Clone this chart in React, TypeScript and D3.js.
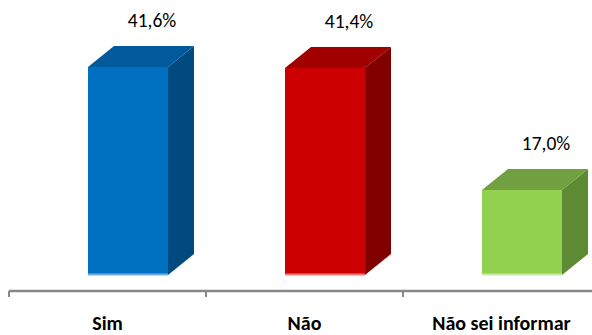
import React from "react";
import * as d3 from "d3";

const categories = ["Sim", "Não", "Não sei informar"];
const values = [41.6, 41.4, 17.0];
const valueLabels = ["41,6%", "41,4%", "17,0%"];

const colors = [
  { front: "#0070C0", top: "#005A9C", side: "#004A80", base: "#6FB0E4" },
  { front: "#CC0000", top: "#A00000", side: "#800000", base: "#EA7A7A" },
  { front: "#92D050", top: "#70A040", side: "#5E8A34", base: "#C8EAA8" },
];

const W = 592;
const H = 335;
const font = "Carlito, Calibri, Lato, 'Open Sans', sans-serif";

export default function App() {
  const x = d3.scaleBand<string>().domain(categories).range([9, 9 + 197 * 3]).paddingInner(0).paddingOuter(0);
  const y = d3.scaleLinear().domain([0, 55]).range([275, 0]);
  const frontW = 80;
  const offset = 79;
  const dx = 26;
  const dy = 21;
  const axisY = 291;
  const ticks = [0, 1, 2, 3].map((i) => 9 + i * x.bandwidth());

  return (
    <svg
      width={W}
      height={H}
      style={{ position: "absolute", left: 0, top: 0, background: "#fff" }}
      fontFamily={font}
    >
      {categories.map((c, i) => {
        const x0 = (x(c) as number) + offset;
        const x1 = x0 + frontW;
        const yt = y(values[i]);
        const yb = y(0);
        const col = colors[i];
        const top = `${x0},${yt} ${x1},${yt} ${x1 + dx},${yt - dy} ${x0 + dx},${yt - dy}`;
        const side = `${x1},${yt} ${x1 + dx},${yt - dy} ${x1 + dx},${yb - dy} ${x1},${yb}`;
        return (
          <g key={c}>
            <polygon points={side} fill={col.side} />
            <polygon points={top} fill={col.top} />
            <rect x={x0} y={yt} width={frontW} height={yb - yt} fill={col.front} />
            <rect x={x0} y={yb - 1.5} width={frontW} height={2} fill={col.base} />
            <text
              x={x0 + 64}
              y={yt - dy - 19}
              textAnchor="middle"
              fontSize={19.5}
              fill="#000"
            >
              {valueLabels[i]}
            </text>
          </g>
        );
      })}
      <line x1={9} x2={W} y1={axisY} y2={axisY} stroke="#878787" strokeWidth={2.5} />
      {ticks.map((t, i) => (
        <line key={i} x1={t} x2={t} y1={axisY} y2={axisY + 6} stroke="#878787" strokeWidth={2} />
      ))}
      {categories.map((c) => (
        <text
          key={c}
          x={(x(c) as number) + x.bandwidth() / 2}
          y={330}
          textAnchor="middle"
          fontSize={20}
          fontWeight="bold"
          fill="#000"
        >
          {c}
        </text>
      ))}
    </svg>
  );
}
